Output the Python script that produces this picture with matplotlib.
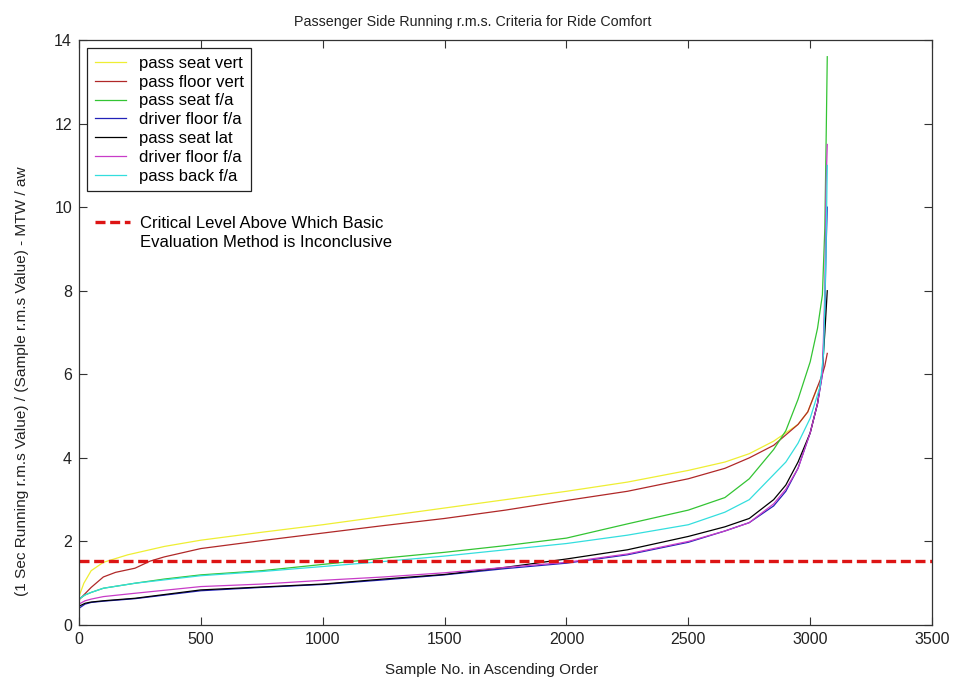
import matplotlib
matplotlib.use("Agg")
import matplotlib.pyplot as plt
from matplotlib.lines import Line2D

plt.rcParams['font.family'] = ['Liberation Sans', 'DejaVu Sans']

# ---- data ----
title = "Passenger Side Running r.m.s. Criteria for Ride Comfort"
xlabel = "Sample No. in Ascending Order"
ylabel = "(1 Sec Running r.m.s Value) / (Sample r.m.s Value) - MTW / aw"

labels = ["pass seat vert", "pass floor vert", "pass seat f/a", "driver floor f/a",
          "pass seat lat", "driver floor f/a", "pass back f/a"]
critical_lines = ["Critical Level Above Which Basic", "Evaluation Method is Inconclusive"]
critical_level = 1.53

x_yellow = [0, 20, 50, 100, 200, 350, 500, 750, 1000, 1250, 1500, 1750, 2000, 2250, 2500,
            2650, 2750, 2850, 2900, 2950, 2990, 3030]
y_yellow = [0.68, 1.0, 1.3, 1.5, 1.68, 1.88, 2.03, 2.22, 2.4, 2.6, 2.8, 3.0, 3.2, 3.42, 3.7,
            3.9, 4.1, 4.4, 4.6, 4.8, 5.1, 5.7]

x_red = [0, 25, 50, 100, 150, 230, 292, 350, 500, 750, 1000, 1250, 1500, 1750, 2000, 2250,
         2500, 2650, 2750, 2850, 2900, 2950, 2990, 3030, 3050, 3060, 3070]
y_red = [0.6, 0.75, 0.9, 1.15, 1.26, 1.36, 1.53, 1.63, 1.83, 2.02, 2.2, 2.38, 2.55, 2.75,
         2.98, 3.2, 3.5, 3.75, 4.0, 4.3, 4.55, 4.8, 5.1, 5.7, 6.0, 6.2, 6.5]

x_green = [0, 25, 50, 100, 230, 350, 500, 750, 1000, 1250, 1500, 1750, 2000, 2250, 2500,
           2650, 2750, 2850, 2900, 2950, 3000, 3030, 3050, 3060, 3066, 3070]
y_green = [0.62, 0.72, 0.78, 0.88, 1.0, 1.1, 1.2, 1.3, 1.45, 1.6, 1.74, 1.9, 2.08, 2.42,
           2.75, 3.05, 3.5, 4.2, 4.65, 5.4, 6.3, 7.1, 7.9, 9.5, 11.9, 13.6]

x_blue = [0, 25, 50, 100, 230, 500, 750, 1000, 1250, 1500, 1750, 2000, 2250, 2500, 2650,
          2750, 2850, 2900, 2950, 3000, 3030, 3050, 3060, 3065, 3070]
y_blue = [0.4, 0.5, 0.54, 0.57, 0.63, 0.82, 0.9, 0.97, 1.08, 1.2, 1.35, 1.48, 1.68, 1.98,
          2.25, 2.45, 2.85, 3.2, 3.75, 4.6, 5.3, 6.0, 7.5, 9.0, 10.0]

x_black = [0, 25, 50, 100, 230, 500, 750, 1000, 1250, 1500, 1750, 2000, 2250, 2500, 2650,
           2750, 2850, 2900, 2950, 3000, 3030, 3050, 3060, 3070]
y_black = [0.45, 0.52, 0.55, 0.58, 0.64, 0.84, 0.91, 0.98, 1.1, 1.21, 1.38, 1.58, 1.8, 2.12,
           2.35, 2.55, 3.0, 3.35, 3.9, 4.6, 5.3, 6.1, 7.0, 8.0]

x_magenta = [0, 25, 50, 100, 230, 500, 750, 1000, 1250, 1500, 1750, 2000, 2250, 2500, 2650,
             2750, 2850, 2900, 2950, 3000, 3030, 3050, 3060, 3065, 3070]
y_magenta = [0.5, 0.58, 0.62, 0.68, 0.76, 0.92, 0.98, 1.07, 1.15, 1.25, 1.38, 1.5, 1.7, 2.0,
             2.25, 2.45, 2.9, 3.25, 3.75, 4.6, 5.3, 6.0, 8.0, 10.5, 11.5]

x_cyan = [0, 25, 50, 100, 230, 350, 500, 750, 1000, 1250, 1500, 1750, 2000, 2250, 2500,
          2650, 2750, 2850, 2900, 2950, 3000, 3040, 3055, 3065, 3070]
y_cyan = [0.62, 0.72, 0.78, 0.88, 1.0, 1.08, 1.18, 1.28, 1.4, 1.52, 1.65, 1.8, 1.95, 2.15,
          2.4, 2.7, 3.0, 3.6, 3.9, 4.35, 4.95, 5.7, 6.5, 9.0, 11.0]

series = [(x_yellow, y_yellow), (x_red, y_red), (x_green, y_green), (x_blue, y_blue),
          (x_black, y_black), (x_magenta, y_magenta), (x_cyan, y_cyan)]
colors = ['#eeee33', '#b02828', '#33c433', '#2222b8', '#000000', '#c83cc8', '#33dede']

xticks = [0, 500, 1000, 1500, 2000, 2500, 3000, 3500]
yticks = [0, 2, 4, 6, 8, 10, 12, 14]

# ---- figure ----
fig = plt.figure(figsize=(9.55, 6.86), dpi=100)
ax = fig.add_axes([0.0827, 0.0889, 0.8933, 0.8528])

handles = []
for (xs, ys), c, lab in zip(series, colors, labels):
    h, = ax.plot(xs, ys, color=c, lw=0.9, label=lab)
    handles.append(h)

crit_color = '#dd1414'
ax.axhline(critical_level, color=crit_color, lw=2.4, dashes=(3, 1.4))

ax.set_xlim(xticks[0], xticks[-1])
ax.set_ylim(yticks[0], yticks[-1])
ax.set_xticks(xticks)
ax.set_yticks(yticks)
ax.tick_params(direction='in', top=True, right=True, labelsize=11.5, length=6,
               width=0.8, colors='#333333', labelcolor='#222222', pad=5)
for s in ax.spines.values():
    s.set_color('#333333')
    s.set_linewidth(0.9)

ax.set_title(title, fontsize=10.3, color='#222222', pad=10, x=0.461)
ax.set_xlabel(xlabel, fontsize=11, color='#222222')
ax.xaxis.set_label_coords(0.484, -0.0655)
ax.set_ylabel(ylabel, fontsize=11.1, color='#222222')
ax.yaxis.set_label_coords(-0.0585, 0.417)

leg1 = ax.legend(handles=handles, labels=labels, loc='upper left',
                 bbox_to_anchor=(0.0097, 0.9858), fontsize=12, frameon=True,
                 fancybox=False, edgecolor='#222222', framealpha=1,
                 handlelength=1.9, handletextpad=0.75, labelspacing=0.23,
                 borderpad=0.45, borderaxespad=0)
leg1.get_frame().set_linewidth(0.9)
ax.add_artist(leg1)

crit_handle = Line2D([], [], color=crit_color, lw=2.4, dashes=(3, 1.4))
blank_handle = Line2D([], [], color='none')
leg2 = ax.legend(handles=[crit_handle, blank_handle], labels=critical_lines,
                 loc='upper left', bbox_to_anchor=(0.0115, 0.71), fontsize=12,
                 frameon=False, handlelength=2.1, handletextpad=0.6,
                 labelspacing=0.21, borderaxespad=0)

fig.savefig("out.png", dpi=100)
